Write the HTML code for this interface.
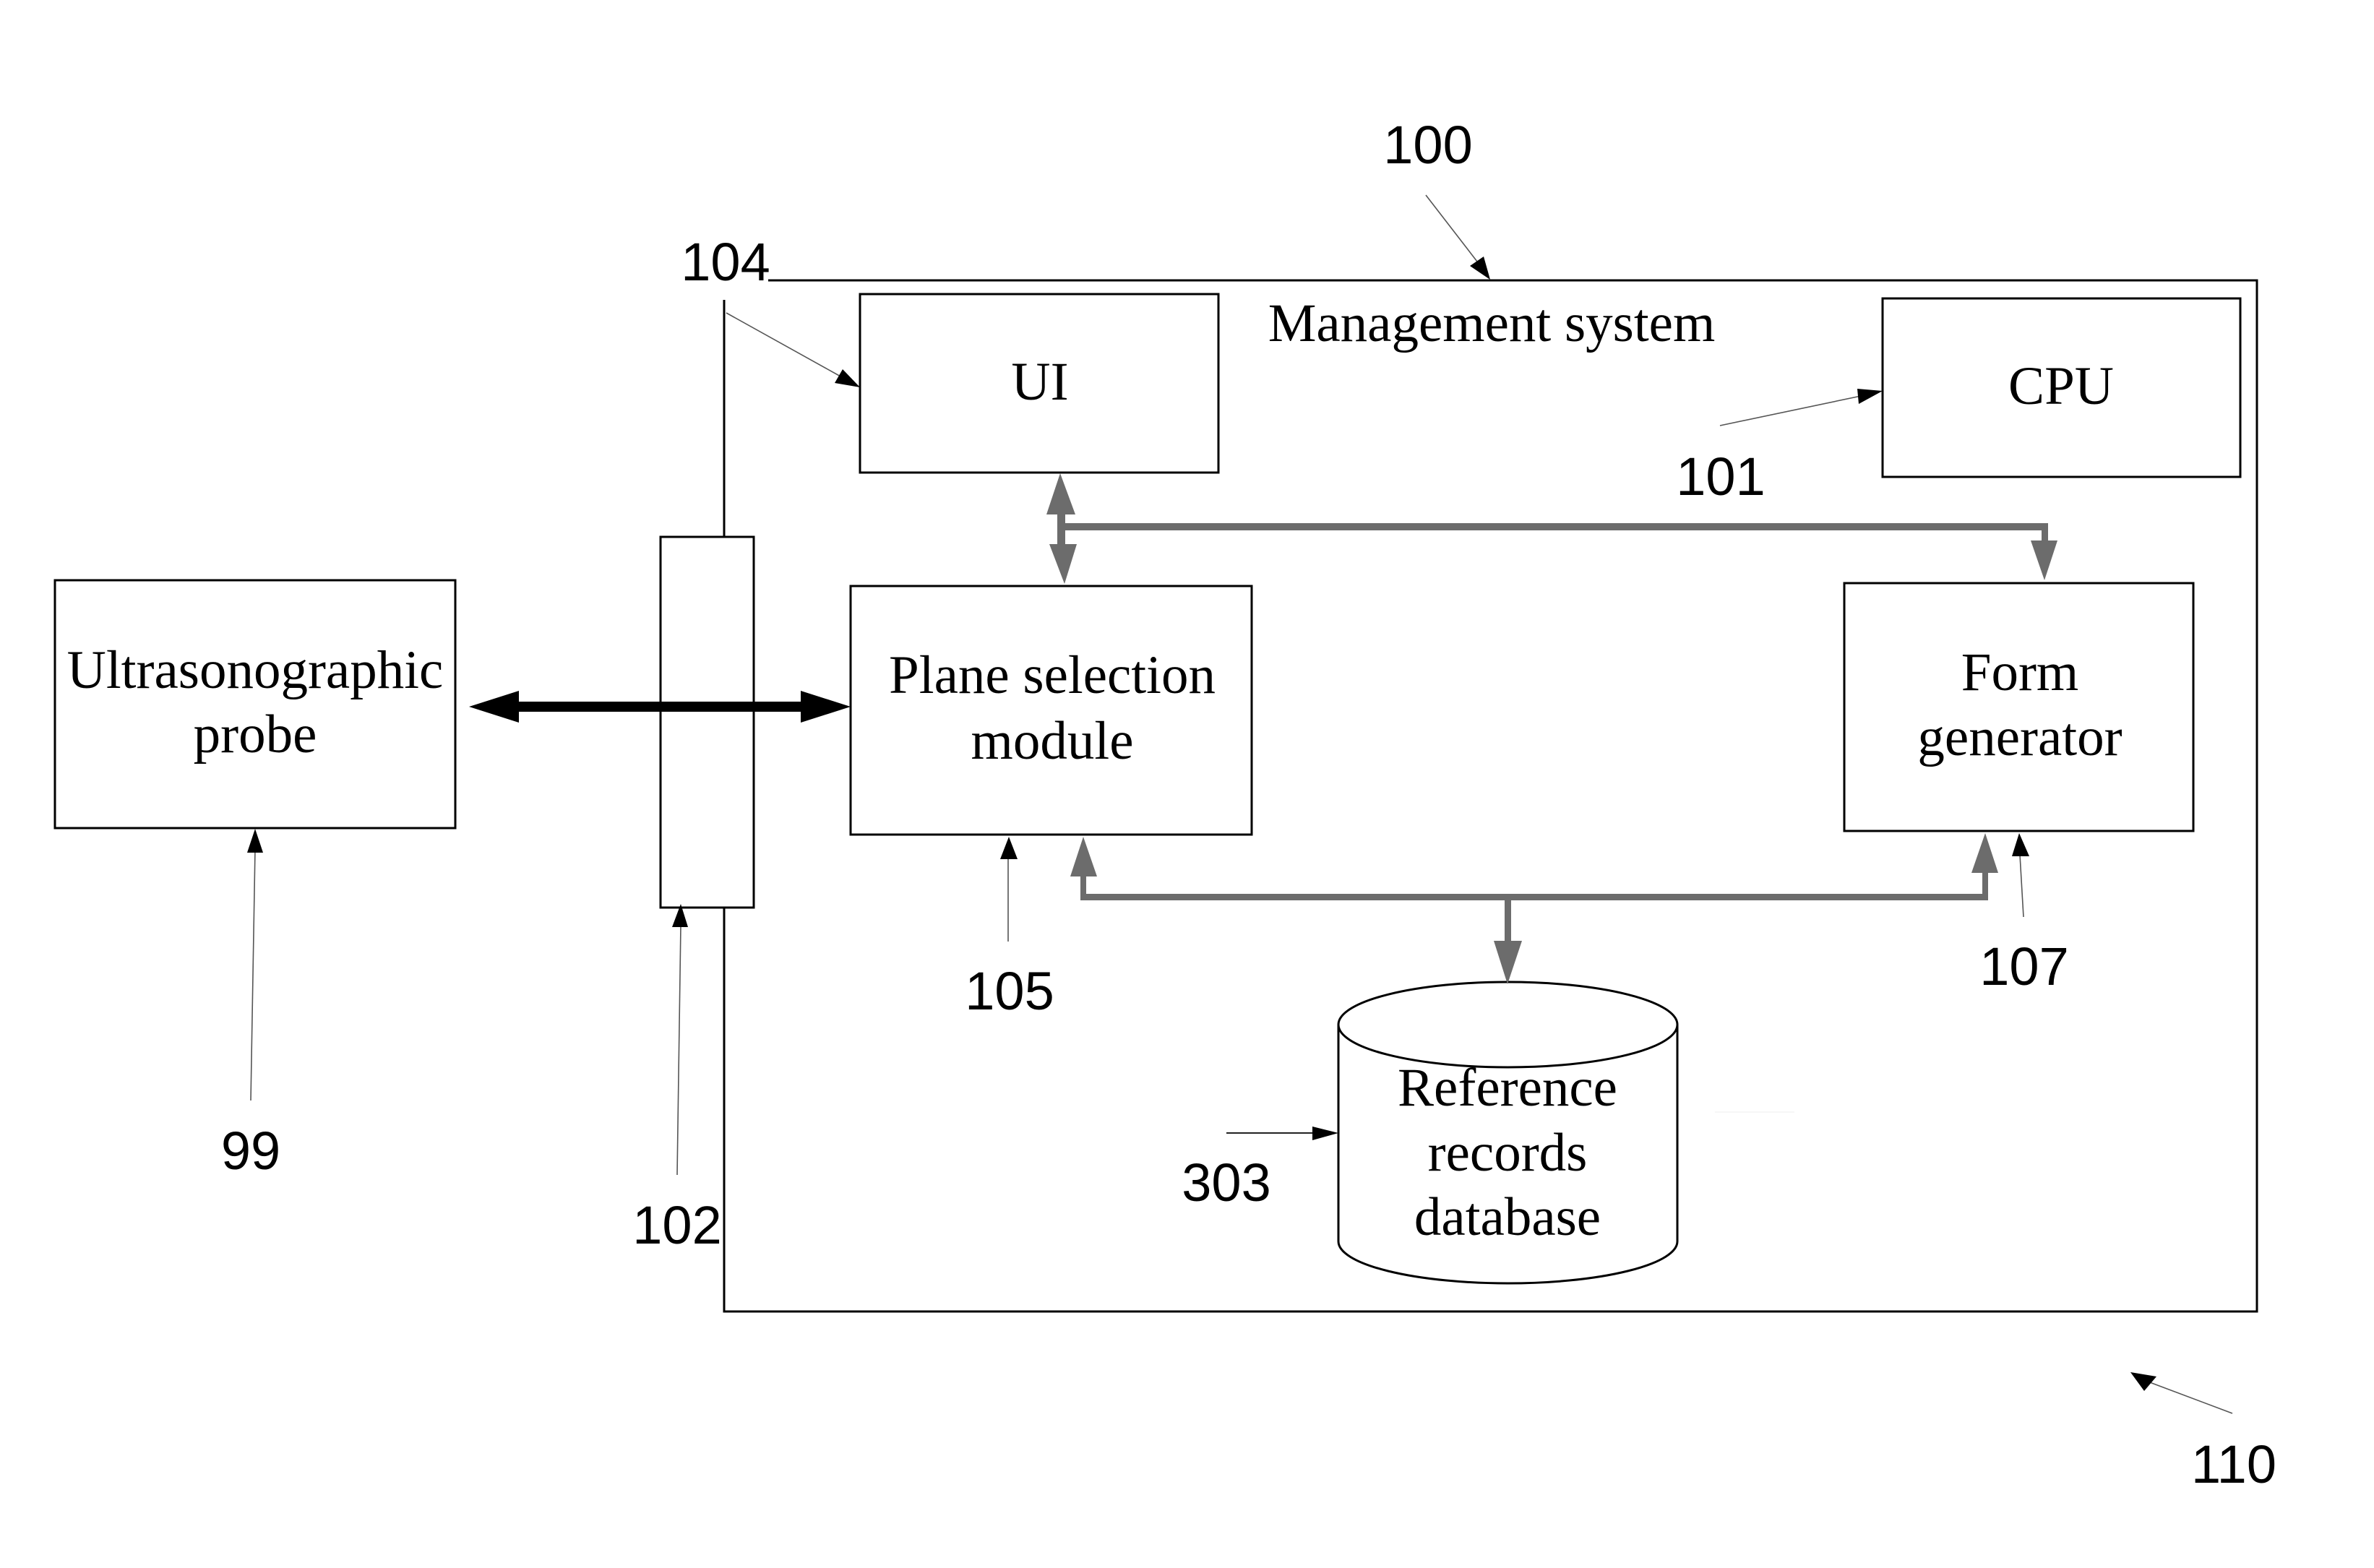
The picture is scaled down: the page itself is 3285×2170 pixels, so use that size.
<!DOCTYPE html>
<html>
<head>
<meta charset="utf-8">
<style>
html,body{margin:0;padding:0;background:#fff;width:3285px;height:2170px;overflow:hidden}
svg{display:block}
.n{font-family:"Liberation Sans",sans-serif;font-size:74px;fill:#000;text-anchor:middle}
.s{font-family:"Liberation Serif",serif;font-size:75px;fill:#000;text-anchor:middle}
.b{fill:none;stroke:#000;stroke-width:3}
.t{stroke:#555;stroke-width:1.6;fill:none}
.g{fill:#6c6c6c;stroke:none}
</style>
</head>
<body>
<svg width="3285" height="2170" viewBox="0 0 3285 2170" xmlns="http://www.w3.org/2000/svg">
<rect width="3285" height="2170" fill="#fff"/>

<!-- outer system outline -->
<path class="b" d="M1063 388H3123V1815H1002V1256M1002 742V415"/>

<!-- boxes -->
<rect class="b" x="1190" y="407" width="496" height="247"/>
<rect class="b" x="2605" y="413" width="495" height="247"/>
<rect class="b" x="1177" y="811" width="555" height="344"/>
<rect class="b" x="2552" y="807" width="483" height="343"/>
<rect class="b" x="76" y="803" width="554" height="343"/>
<rect class="b" x="914" y="743" width="129" height="513"/>

<!-- cylinder -->
<path d="M1852 1418V1718A234.5 58 0 0 0 2321 1718V1418" fill="#fff" stroke="#000" stroke-width="3"/>
<ellipse cx="2086.500" cy="1418" rx="234.500" ry="59" fill="#fff" stroke="#000" stroke-width="3"/>
<line x1="2373" y1="1539" x2="2483" y2="1539" stroke="#eee" stroke-width="1"/>

<!-- thick black arrow -->
<polygon fill="#000" points="649,978 718,956 718,971 1108,971 1108,956 1177,978 1108,1000 1108,985 718,985 718,1000"/>

<!-- gray bus top -->
<g class="g">
<polygon points="1467,655 1488,712 1474,712 1474,724 2834,724 2834,748 2847,748 2829,803 2810,748 2825,748 2825,734 1474,734 1474,753 1490,753 1473,808 1452,753 1463,753 1463,712 1448,712"/>
<!-- gray bus bottom -->
<polygon points="1499,1158 1518,1213 1503,1213 1503,1237 2743,1237 2743,1208 2728,1208 2747,1153 2765,1208 2751,1208 2751,1246 2091,1246 2091,1302 2106,1302 2086,1362 2067,1302 2082,1302 2082,1246 1495,1246 1495,1213 1481,1213"/>
</g>

<!-- thin leader arrows -->
<line class="t" x1="1973" y1="270" x2="2044" y2="362"/>
<polygon points="2062,387 2034,368 2053,355" fill="#000"/>
<line class="t" x1="1005" y1="433" x2="1165" y2="522"/>
<polygon points="1190,536 1155,530 1166,511" fill="#000"/>
<line class="t" x1="2380" y1="589" x2="2575" y2="548"/>
<polygon points="2605,541 2570,538 2572,559" fill="#000"/>
<line class="t" x1="347" y1="1523" x2="353" y2="1175"/>
<polygon points="353,1147 342,1180 364,1180" fill="#000"/>
<line class="t" x1="937" y1="1626" x2="942" y2="1280"/>
<polygon points="942,1251 930,1283 952,1283" fill="#000"/>
<line class="t" x1="1395" y1="1303" x2="1395" y2="1185"/>
<polygon points="1396,1158 1384,1189 1408,1189" fill="#000"/>
<line class="t" x1="2800" y1="1269" x2="2795" y2="1183"/>
<polygon points="2794,1153 2784,1185 2808,1185" fill="#000"/>
<line class="t" x1="1697" y1="1568" x2="1820" y2="1568" style="stroke:#222;stroke-width:2"/>
<polygon points="1852,1568 1816,1559 1816,1578" fill="#000"/>
<line class="t" x1="3089" y1="1956" x2="2972" y2="1912"/>
<polygon points="2948,1899 2967,1925 2984,1905" fill="#000"/>

<!-- numeric labels -->
<text class="n" x="1976" y="226">100</text>
<text class="n" x="1004" y="388">104</text>
<text class="n" x="2381" y="685">101</text>
<text class="n" x="347" y="1618">99</text>
<text class="n" x="937" y="1721">102</text>
<text class="n" x="1397" y="1397">105</text>
<text class="n" x="2801" y="1363">107</text>
<text class="n" x="1697" y="1662">303</text>
<text class="n" x="3091" y="2052">110</text>

<!-- serif labels -->
<text class="s" x="2064" y="472">Management system</text>
<text class="s" x="1439" y="553">UI</text>
<text class="s" x="2852" y="559">CPU</text>
<text class="s" x="353" y="952">Ultrasonographic</text>
<text class="s" x="353" y="1041">probe</text>
<text class="s" x="1456" y="959">Plane selection</text>
<text class="s" x="1456" y="1050">module</text>
<text class="s" x="2795" y="955">Form</text>
<text class="s" x="2795" y="1045">generator</text>
<text class="s" x="2086" y="1530">Reference</text>
<text class="s" x="2086" y="1620">records</text>
<text class="s" x="2086" y="1709">database</text>
</svg>
</body>
</html>
